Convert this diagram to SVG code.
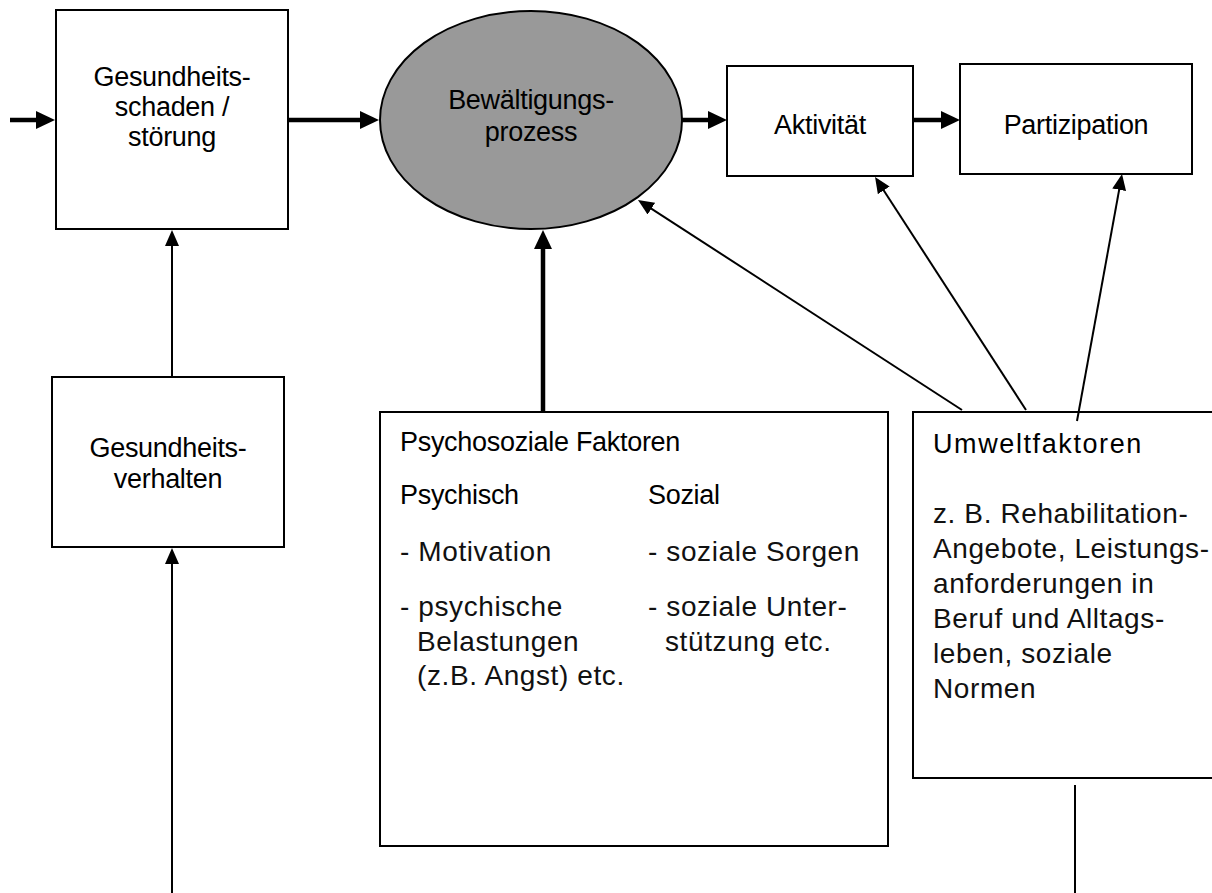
<svg xmlns="http://www.w3.org/2000/svg" width="1212" height="893" viewBox="0 0 1212 893">
<style>
.box{fill:#fff;stroke:#000;stroke-width:2}
.t{font-family:"Liberation Sans",Arial,sans-serif;font-size:27px;letter-spacing:-0.3px;fill:#000}
.c{text-anchor:middle}
.b{font-family:"Liberation Sans",Arial,sans-serif;font-size:28px;letter-spacing:0.6px;fill:#111}
.thick{stroke:#000;stroke-width:4.5;fill:none}
.thin{stroke:#000;stroke-width:2;fill:none}
</style>
<defs>
<marker id="ah" markerUnits="userSpaceOnUse" markerWidth="19" markerHeight="18" refX="10" refY="9" orient="auto" viewBox="0 0 19 18"><path d="M0,0 L19,9 L0,18 z" fill="#000"/></marker>
<marker id="as" markerUnits="userSpaceOnUse" markerWidth="16" markerHeight="14" refX="8" refY="7" orient="auto" viewBox="0 0 16 14"><path d="M0,0 L16,7 L0,14 z" fill="#000"/></marker>
</defs>
<g id="n-schaden"><rect class="box" x="56" y="10" width="232" height="219"/>
<text class="t c" x="172" y="86">Gesundheits-</text><text class="t c" x="172" y="116">schaden /</text><text class="t c" x="172" y="146">störung</text></g>
<g id="n-bewaeltigung"><ellipse cx="531" cy="120" rx="151" ry="109" fill="#999999" stroke="#000" stroke-width="2"/>
<text class="t c" x="531" y="109">Bewältigungs-</text><text class="t c" x="531" y="141">prozess</text></g>
<g id="n-aktivitaet"><rect class="box" x="727" y="66" width="186" height="110"/><text class="t c" x="820" y="134">Aktivität</text></g>
<g id="n-partizipation"><rect class="box" x="960" y="64" width="232" height="110"/><text class="t c" x="1076" y="134">Partizipation</text></g>
<g id="n-verhalten"><rect class="box" x="52" y="377" width="232" height="170"/>
<text class="t c" x="168" y="457">Gesundheits-</text><text class="t c" x="168" y="488">verhalten</text></g>
<g id="n-psychosozial"><rect class="box" x="380" y="412" width="508" height="434"/>
<text class="t" x="400" y="451">Psychosoziale Faktoren</text>
<text class="t" x="400" y="504">Psychisch</text><text class="t" x="648" y="504">Sozial</text>
<text class="b" x="400" y="561">- Motivation</text>
<text class="b" x="400" y="616">- psychische</text>
<text class="b" x="417" y="651">Belastungen</text>
<text class="b" x="417" y="685">(z.B. Angst) etc.</text>
<text class="b" x="648" y="561">- soziale Sorgen</text>
<text class="b" x="648" y="616">- soziale Unter-</text>
<text class="b" x="665" y="651">stützung etc.</text></g>
<g id="n-umwelt"><rect class="box" x="913" y="412" width="320" height="366"/>
<text class="t" x="933" y="453" textLength="208" lengthAdjust="spacing">Umweltfaktoren</text>
<text class="b" x="933" y="523">z. B. Rehabilitation-</text>
<text class="b" x="933" y="558">Angebote, Leistungs-</text>
<text class="b" x="933" y="593">anforderungen in</text>
<text class="b" x="933" y="628">Beruf und Alltags-</text>
<text class="b" x="933" y="663">leben, soziale</text>
<text class="b" x="933" y="698">Normen</text></g>
<g id="connectors">
<line class="thick" x1="10" y1="120" x2="46" y2="120" marker-end="url(#ah)"/>
<line class="thick" x1="289" y1="120" x2="370" y2="120" marker-end="url(#ah)"/>
<line class="thick" x1="682" y1="120" x2="718" y2="120" marker-end="url(#ah)"/>
<line class="thick" x1="913" y1="120" x2="951" y2="120" marker-end="url(#ah)"/>
<line class="thick" x1="543" y1="412" x2="543" y2="239" marker-end="url(#ah)"/>
<line class="thin" x1="172" y1="377" x2="172" y2="238" marker-end="url(#as)"/>
<line class="thin" x1="172" y1="893" x2="172" y2="556" marker-end="url(#as)"/>
<line class="thin" x1="962" y1="410" x2="644.7" y2="204.3" marker-end="url(#as)"/>
<line class="thin" x1="1026" y1="410" x2="879.4" y2="183.7" marker-end="url(#as)"/>
<line class="thin" x1="1077" y1="421" x2="1120.6" y2="181.9" marker-end="url(#as)"/>
<line class="thin" x1="1075" y1="785" x2="1075" y2="893"/>
</g>
</svg>
